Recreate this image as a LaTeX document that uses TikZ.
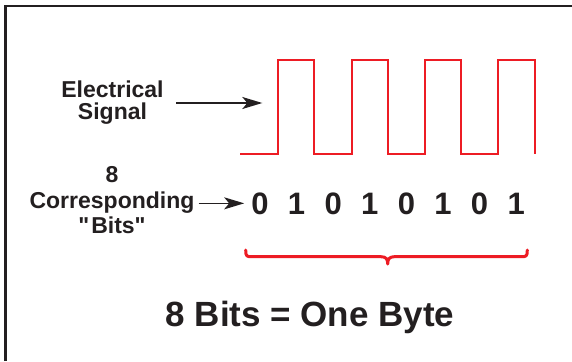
\documentclass[tikz,border=0pt]{standalone}
\usepackage{fontspec}
\setmainfont{Liberation Sans}
\usetikzlibrary{arrows.meta}
\definecolor{sigred}{RGB}{237,28,36}
\definecolor{ink}{RGB}{35,31,32}
\tikzset{
  lbl/.style={font=\bfseries\fontsize{23}{22}\selectfont, text=ink, inner sep=0pt, align=center},
  digit/.style={font=\bfseries\fontsize{31}{31}\selectfont, text=ink, inner sep=0pt, anchor=base},
  arr/.style={draw=ink, line width=1.5pt, -{Stealth[length=20pt,width=12pt,inset=5pt]}},
  sig/.style={draw=sigred, line width=2pt},
  bracestyle/.style={draw=sigred, line width=3pt, line cap=round, line join=round}
}
\begin{document}
\begin{tikzpicture}[x=1pt,y=-1pt]
\useasboundingbox (0,0) rectangle (572,361);
\fill[white] (0,0) rectangle (572,361);
% frame
\draw[ink, line width=2.5pt] (5.5,361) -- (5.5,6) -- (572,6);
% signal
\draw[sig] (240,154.3) -- (278.3,154.3) -- (278.3,60) -- (314.3,60) -- (314.3,154.3)
  -- (351.7,154.3) -- (351.7,60) -- (387.7,60) -- (387.7,154.3)
  -- (425,154.3) -- (425,60) -- (461,60) -- (461,154.3)
  -- (498.3,154.3) -- (498.3,60) -- (535,60) -- (535,154.3);
% labels
\node[lbl] (elec) at (112.5,103) {Electrical\\Signal};
\coordinate (sigin) at (262.3,103);
\draw[arr] ([xshift=12.5pt]elec.east) -- (sigin);
\node[lbl, font=\bfseries\fontsize{23}{25.25}\selectfont] (bits) at (112,200.1) {8\\Corresponding\\\textquotedbl\kern2pt Bits\textquotedbl};
% digits
\foreach \b [count=\i] in {0,1,0,1,0,1,0,1}
  \node[digit] (d\i) at ({223.4+36.6*\i},214) {\b};
\coordinate (b0) at ([xshift=4pt]bits.east);
\draw[arr] (b0 |- d1.west) -- ([xshift=-7pt]d1.west);
% brace
\draw[bracestyle] (245.7,250) .. controls (245.7,256.7) and (247,256.7) .. (252,256.7)
  -- (381,256.7) .. controls (386,256.7) and (387.7,259) .. (387.7,264)
  .. controls (387.7,259) and (389.4,256.7) .. (394.4,256.7)
  -- (521,256.7) .. controls (526,256.7) and (527.3,256.7) .. (527.3,250);
% title
\node[anchor=base, font=\bfseries\fontsize{35}{35}\selectfont, text=ink, inner sep=0pt] (title) at (310,326) {8 Bits = One Byte};
\end{tikzpicture}
\end{document}
